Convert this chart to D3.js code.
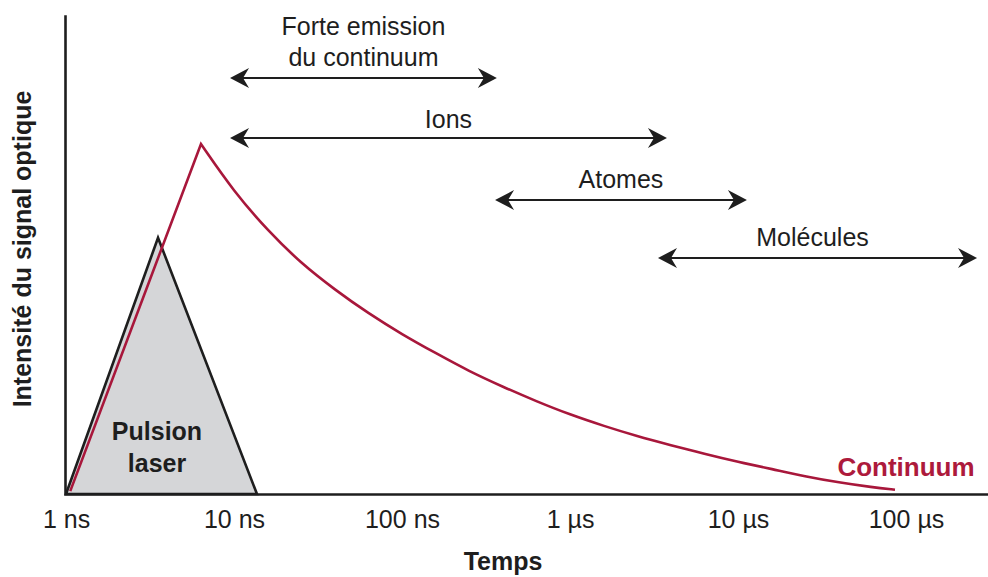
<!DOCTYPE html>
<html>
<head>
<meta charset="utf-8">
<script src="https://cdn.jsdelivr.net/npm/d3@7"></script>
<style>
  html, body { margin: 0; padding: 0; background: #ffffff; }
  svg { display: block; font-family: "Liberation Sans", Arial, sans-serif; }
</style>
</head>
<body>
<svg id="chart" width="988" height="577"></svg>
<script>
// ---------- data ----------
const tickValues = [1, 10, 100, 1000, 10000, 100000];          // ns
const tickLabels = ["1 ns", "10 ns", "100 ns", "1 µs", "10 µs", "100 µs"];

const pulseTime = [1, 3.53, 13.7];                               // ns
const pulseIntensity = [0, 53.6, 0];

// rise of the continuum (laser-driven), then its decay
const riseTime = [1.06, 6.36];
const riseIntensity = [0.6, 73.2];
const decayTime = [6.36, 10, 16, 25, 40, 63, 100, 160, 250, 400, 630, 1000, 1600,
                   2500, 4000, 6300, 10000, 16000, 25000, 40000, 63000, 86000];
const decayIntensity = [73.2, 63.2, 55.0, 48.3, 42.7, 37.8, 33.4, 29.4, 25.7, 22.4, 19.4, 16.6, 14.2,
                        12.1, 10.2, 8.4, 6.7, 5.2, 3.7, 2.4, 1.4, 0.9];

const phaseLabels = [["Forte emission", "du continuum"], ["Ions"], ["Atomes"], ["Molécules"]];
const phaseStart = [9.47, 9.47, 358, 3340];                      // ns
const phaseEnd = [367, 3777, 11300, 264800];                     // ns

// ---------- layout ----------
const W = 988, H = 577;
const x0 = 66, decade = 168, xMax = 3.1e5;
const yBase = 494, yTop = 16;
const arrowRows = [78, 138, 200, 258];
const labelGap = [12, 10, 12, 12];
const labelShift = [0, 0, 0, -5];
const ink = "#1e1e1e";
const red = "#a8173b";

const svg = d3.select("#chart");
svg.append("rect").attr("width", W).attr("height", H).attr("fill", "#ffffff");

const x = d3.scaleLog().domain([1, xMax]).range([x0, x0 + decade * Math.log10(xMax)]);
const y = d3.scaleLinear().domain([0, 100]).range([yBase, yTop]);

// pulse triangle
const pulsePts = pulseTime.map((t, i) => [x(t), y(pulseIntensity[i])]);
svg.append("path")
  .attr("d", d3.line()(pulsePts) + "Z")
  .attr("fill", "#d5d6d8")
  .attr("stroke", ink)
  .attr("stroke-width", 2.6)
  .attr("stroke-linejoin", "miter");

svg.append("text").attr("x", 157).attr("y", 440)
  .attr("text-anchor", "middle").attr("font-weight", "bold").attr("font-size", 25)
  .attr("fill", ink).text("Pulsion");
svg.append("text").attr("x", 157).attr("y", 472)
  .attr("text-anchor", "middle").attr("font-weight", "bold").attr("font-size", 25)
  .attr("fill", ink).text("laser");

// continuum curve
const risePts = riseTime.map((t, i) => [x(t), y(riseIntensity[i])]);
const decayPts = decayTime.map((t, i) => [x(t), y(decayIntensity[i])]);
svg.append("path")
  .attr("d", d3.line()(risePts) + d3.line().curve(d3.curveBasis)(decayPts).replace(/^M/, "L"))
  .attr("fill", "none").attr("stroke", red).attr("stroke-width", 2.6)
  .attr("stroke-linejoin", "miter");

svg.append("text").attr("x", 906).attr("y", 476)
  .attr("text-anchor", "middle").attr("font-weight", "bold").attr("font-size", 26)
  .attr("fill", "#ad1a3c").text("Continuum");

// phase arrows
function arrowHead(tipX, tipY, dir) {
  const L = 19, hw = 10, notch = 13;
  return `M${tipX},${tipY}L${tipX + dir * L},${tipY - hw}L${tipX + dir * notch},${tipY}L${tipX + dir * L},${tipY + hw}Z`;
}
phaseLabels.forEach((lines, i) => {
  const xa = x(phaseStart[i]), xb = x(phaseEnd[i]), ya = arrowRows[i];
  svg.append("line").attr("x1", xa + 10).attr("x2", xb - 10).attr("y1", ya).attr("y2", ya)
    .attr("stroke", ink).attr("stroke-width", 2);
  svg.append("path").attr("d", arrowHead(xa, ya, 1)).attr("fill", ink);
  svg.append("path").attr("d", arrowHead(xb, ya, -1)).attr("fill", ink);
  const cx = (xa + xb) / 2 + labelShift[i];
  const lineH = 31;
  lines.forEach((s, j) => {
    svg.append("text")
      .attr("x", cx)
      .attr("y", ya - labelGap[i] - (lines.length - 1 - j) * lineH)
      .attr("text-anchor", "middle").attr("font-size", 25).attr("fill", ink)
      .text(s);
  });
});

// axes
const xAxis = svg.append("g")
  .attr("transform", `translate(0,${yBase})`)
  .call(d3.axisBottom(x).tickValues(tickValues)
    .tickFormat((d, i) => tickLabels[i]).tickSize(0).tickSizeOuter(0).tickPadding(16));
xAxis.select(".domain").attr("stroke", ink).attr("stroke-width", 2.6);
xAxis.selectAll("text").attr("font-size", 25).attr("fill", ink)
  .attr("font-family", "'Liberation Sans', Arial, sans-serif");

const yAxis = svg.append("g")
  .attr("transform", `translate(65,0)`)
  .call(d3.axisLeft(y).tickValues([]).tickSize(0).tickSizeOuter(0));
yAxis.select(".domain").attr("stroke", ink).attr("stroke-width", 2.6)
  .attr("stroke-linecap", "square");

// axis titles
svg.append("text").attr("x", 503).attr("y", 570)
  .attr("text-anchor", "middle").attr("font-weight", "bold").attr("font-size", 25)
  .attr("fill", ink).text("Temps");
svg.append("text")
  .attr("transform", "translate(31,249) rotate(-90)")
  .attr("text-anchor", "middle").attr("font-weight", "bold").attr("font-size", 25)
  .attr("fill", ink).text("Intensité du signal optique");
</script>
</body>
</html>
